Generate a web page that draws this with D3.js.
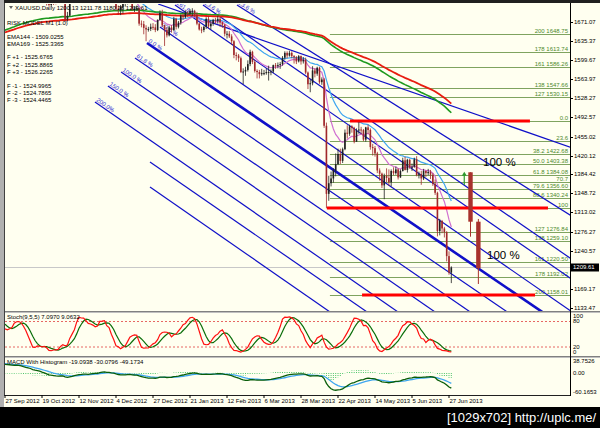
<!DOCTYPE html>
<html>
<head>
<meta charset="utf-8">
<script src="https://cdn.jsdelivr.net/npm/d3@7"></script>
<style>
body { margin: 0; background: #000; }
svg { display: block; }
text { font-family: "Liberation Sans", Arial, sans-serif; }
</style>
</head>
<body>
<svg id="chart" width="600" height="428"></svg>
<script>
// ---- data ----
const dateTicks = ["27 Sep 2012", "19 Oct 2012", "12 Nov 2012", "4 Dec 2012", "27 Dec 2012", "21 Jan 2013",
    "12 Feb 2013", "6 Mar 2013", "28 Mar 2013", "22 Apr 2013", "14 May 2013", "5 Jun 2013", "27 Jun 2013"];
const priceTicks = [1671.07, 1635.37, 1599.67, 1563.97, 1528.27, 1492.57, 1455.02, 1420.12, 1384.42,
    1348.72, 1313.02, 1276.27, 1240.57, 1169.17, 1133.47];
const lastPrice = 1209.61;

// bars before the first visible day, only used to warm the indicators up
const warmup = [
    [1616,1625,1612,1622],[1622,1644,1620,1640],[1640,1660,1635,1657],[1657,1673,1654,1670],[1670,1675,1661,1671],
    [1671,1675,1662,1665],[1665,1673,1658,1664],[1664,1668,1653,1657],[1657,1661,1648,1656],[1656,1693,1648,1691],
    [1691,1697,1688,1694],[1694,1698,1680,1693],[1693,1700,1687,1694],[1694,1706,1687,1702],[1702,1741,1700,1739],
    [1739,1741,1726,1731],[1731,1738,1726,1734],[1734,1738,1725,1731],[1731,1772,1724,1769],[1769,1778,1762,1770],
    [1770,1775,1750,1760],[1760,1773,1752,1771],[1771,1779,1763,1772],[1772,1772,1753,1769],[1769,1787,1766,1773],
    [1773,1777,1755,1763],[1763,1773,1755,1763],[1763,1766,1739,1752]
];

// XAUUSD daily, 27 Sep 2012 .. 28 Jun 2013  [open, high, low, close]
const ohlc = [
    [1752,1781,1750,1778],[1778,1786,1768,1772],[1772,1788,1770,1776],[1776,1786,1768,1776],[1776,1781,1764,1778],
    [1778,1797,1775,1794],[1794,1796,1772,1781],[1781,1785,1768,1775],[1775,1778,1760,1764],[1764,1768,1757,1764],
    [1764,1774,1760,1769],[1769,1772,1750,1757],[1757,1759,1731,1738],[1738,1751,1734,1747],[1747,1756,1741,1753],
    [1753,1756,1738,1744],[1744,1746,1718,1724],[1724,1730,1717,1725],[1725,1727,1702,1709],[1709,1717,1700,1703],
    [1703,1717,1700,1712],[1712,1718,1703,1711],[1711,1715,1704,1708],[1708,1714,1705,1709],[1709,1721,1705,1719],
    [1719,1721,1710,1715],[1715,1718,1672,1676],[1676,1690,1672,1683],[1683,1718,1682,1715],[1715,1722,1705,1716],
    [1716,1734,1714,1731],[1731,1737,1722,1731],[1731,1734,1721,1729],[1729,1731,1718,1724],[1724,1733,1722,1728],
    [1728,1730,1708,1714],[1714,1720,1705,1713],[1713,1737,1712,1733],[1733,1736,1719,1726],[1726,1733,1722,1729],
    [1729,1731,1724,1728],[1728,1754,1727,1751],[1751,1755,1741,1749],[1749,1752,1738,1743],[1743,1746,1705,1716],
    [1716,1732,1714,1730],[1730,1731,1708,1712],[1712,1722,1709,1718],[1718,1720,1692,1696],[1696,1702,1685,1694],
    [1694,1703,1684,1700],[1700,1708,1687,1705],[1705,1713,1700,1710],[1710,1719,1704,1716],[1716,1723,1707,1717],
    [1717,1719,1692,1695],[1695,1700,1690,1696],[1696,1702,1692,1697],[1697,1698,1664,1668],[1668,1674,1661,1667],
    [1667,1673,1648,1660],[1660,1665,1635,1657],[1657,1662,1653,1658],[1658,1668,1654,1662],[1662,1669,1656,1661],
    [1661,1667,1652,1656],[1656,1676,1654,1675],[1675,1693,1674,1688],[1688,1694,1662,1665],[1665,1666,1626,1656],
    [1656,1661,1642,1646],[1646,1664,1644,1661],[1661,1665,1651,1656],[1656,1681,1654,1677],[1677,1679,1657,1662],
    [1662,1673,1659,1670],[1670,1685,1666,1683],[1683,1687,1675,1680],[1680,1693,1678,1689],[1689,1691,1680,1687],
    [1687,1695,1685,1692],[1692,1697,1682,1692],[1692,1694,1680,1685],[1685,1690,1665,1668],[1668,1670,1655,1657],
    [1657,1662,1650,1656],[1656,1664,1652,1662],[1662,1680,1658,1677],[1677,1683,1659,1663],[1663,1675,1657,1668],
    [1668,1677,1664,1675],[1675,1679,1668,1673],[1673,1682,1668,1677],[1677,1681,1662,1670],[1670,1672,1660,1666],
    [1666,1667,1644,1649],[1649,1654,1640,1649],[1649,1654,1641,1644],[1644,1648,1628,1635],[1635,1637,1603,1609],
    [1609,1614,1599,1608],[1608,1611,1596,1603],[1603,1606,1575,1577],[1577,1584,1554,1578],[1578,1587,1570,1581],
    [1581,1599,1578,1592],[1592,1619,1588,1615],[1615,1617,1592,1596],[1596,1600,1576,1579],[1579,1582,1565,1577],
    [1577,1581,1565,1573],[1573,1583,1570,1575],[1575,1581,1571,1575],[1575,1584,1572,1577],[1577,1589,1561,1577],
    [1577,1582,1571,1578],[1578,1591,1575,1590],[1590,1594,1583,1589],[1589,1595,1584,1590],[1590,1596,1583,1592],
    [1592,1607,1589,1604],[1604,1616,1600,1613],[1613,1616,1603,1608],[1608,1617,1606,1613],[1613,1616,1603,1607],
    [1607,1609,1593,1605],[1605,1607,1592,1597],[1597,1609,1595,1607],[1607,1608,1591,1597],[1597,1605,1593,1600],
    [1600,1604,1573,1576],[1576,1578,1545,1554],[1554,1563,1539,1556],[1556,1588,1552,1580],[1580,1584,1567,1574],
    [1574,1587,1570,1585],[1585,1587,1555,1558],[1558,1567,1553,1563],[1563,1566,1472,1476],[1476,1482,1321,1348],
    [1348,1382,1335,1368],[1368,1390,1362,1377],[1377,1396,1369,1392],[1392,1424,1381,1404],[1404,1433,1402,1423],
    [1423,1433,1404,1410],[1410,1435,1406,1432],[1432,1469,1430,1463],[1463,1477,1452,1461],[1461,1478,1457,1475],
    [1475,1477,1463,1472],[1472,1474,1443,1446],[1446,1471,1446,1467],[1467,1487,1461,1469],[1469,1474,1460,1468],
    [1468,1470,1447,1450],[1450,1474,1446,1473],[1473,1478,1461,1468],[1468,1471,1431,1436],[1436,1442,1420,1434],
    [1434,1438,1418,1424],[1424,1427,1387,1392],[1392,1396,1373,1386],[1386,1388,1359,1364],[1364,1386,1338,1382],
    [1382,1396,1370,1378],[1378,1394,1363,1370],[1370,1394,1362,1391],[1391,1398,1383,1387],[1387,1399,1384,1394],
    [1394,1396,1375,1379],[1379,1394,1378,1391],[1391,1416,1390,1411],[1411,1418,1392,1393],[1393,1414,1388,1412],
    [1412,1414,1395,1398],[1398,1405,1391,1399],[1399,1416,1397,1413],[1413,1419,1381,1383],[1383,1390,1377,1385],
    [1385,1391,1365,1377],[1377,1395,1374,1391],[1391,1392,1380,1387],[1387,1395,1383,1389],[1389,1393,1376,1384],
    [1384,1387,1363,1367],[1367,1375,1346,1350],[1350,1352,1268,1278],[1278,1301,1270,1297],[1297,1299,1274,1283],
    [1283,1286,1266,1276],[1276,1278,1221,1231],[1231,1240,1196,1200],[1200.13,1211.78,1180.28,1209.61]
];

// Fibonacci retracement / expansion levels
const fibLevels = ["200", "178", "161", "138", "127", "0.0", "23.6", "38.2", "50.0", "61.8", "70.7", "79.6", "88.6", "100",
    "127", "138", "161", "178", "200"];
const fibValues = [1648.75, 1613.74, 1586.26, 1547.66, 1530.15, 1485.16, 1446.56, 1422.68, 1403.38, 1384.08, 1369.53,
    1356.60, 1340.24, 1321.60, 1276.84, 1259.10, 1220.50, 1192.02, 1158.01];
const fibShowPrice = [1, 1, 1, 1, 1, 0, 0, 1, 1, 1, 0, 1, 1, 0, 1, 1, 1, 1, 1];
const fibStart = 140.5;   // bar index where the fibo lines begin

// hand-drawn rays [bar1, price1, bar2, price2, width, label]
const trendLines = [
    [61.4, 1631.6, 227.9, 1139.1, 2.6, "0.0 %"],
    [56.2, 1603.4, 212.8, 1139.1, 1.2, "61.8 %"],
    [50.2, 1577.1, 196.8, 1139.1, 1.2, "100.0 %"],
    [44.5, 1550.8, 181.6, 1139.1, 1.2, "150.0 %"],
    [38.9, 1520.7, 165.6, 1139.1, 1.2, "200.0%"],
    [62.7, 1407.9, 152.2, 1139.1, 1.2, ""],
    [62.7, 1360.9, 136.2, 1139.1, 1.2, ""],
    [67.0, 1661.7, 240.9, 1139.1, 1.2, "23.6 %"],
    [73.5, 1703.0, 244.3, 1189.9, 1.2, "161.8 %"],
    [85.6, 1703.0, 244.3, 1227.5, 1.2, "23.6 %"],
    [100.3, 1703.0, 244.3, 1308.3, 1.2, "23.6 %"],
    [66.2, 1704.9, 244.3, 1436.1, 1.2, ""]
];

// red horizontal zones [bar1, bar2, price]
const redLines = [[149.2, 227.0, 1485.2], [139.2, 234.8, 1321.6], [154.4, 229.2, 1158.0]];

// projected candles to the right of the last bar
const projBar = [201.3, 204.7];
const projOpen = [1388.6, 1295.7];
const projHigh = [1388.6, 1300.8];
const projLow = [1267.5, 1178.6];
const projClose = [1295.7, 1208.0];
const arrowBar = 198.6, arrowFrom = 1364.7, arrowTo = 1389.5;

const legendLines = ["RISK MODEL M1 (1.0)", "EMA144 - 1509.0255", "EMA169 - 1525.3365", "",
    "F +1 - 1525.6765", "F +2 - 1525.8865", "F +3 - 1526.2265", "",
    "F -1 - 1524.9965", "F -2 - 1524.7865", "F -3 - 1524.4465"];

// ---- geometry ----
const W = 600, H = 428;
const plotL = 5, plotR = 570;
const mainTop = 4, mainBot = 311;
const stTop = 313, stBot = 356;
const mdTop = 358, mdBot = 395;

const x = d3.scaleLinear().domain([0, 192]).range([5, 449]);
const y = d3.scaleLinear().domain([1133.47, 1671.07]).range([308, 22]);
const ySt = d3.scaleLinear().domain([0, 100]).range([355.5, 313]);
const yMd = d3.scaleLinear().domain([-60.1653, 38.7526]).range([391.7, 361]);

// ---- indicators ----
function ema(values, period, seed) {
    const a = 2 / (period + 1);
    let e = seed === undefined ? values[0] : seed;
    return values.map((v, i) => (i === 0 && seed === undefined) ? e : (e = e + a * (v - e)));
}

const all = warmup.concat(ohlc);
const nW = warmup.length;
const closesAll = all.map(d => d[3]);
const closes = ohlc.map(d => d[3]);

const ema144 = ema(closes, 144, 1654);
const ema169 = ema(closes, 169, 1650);
const emaFast = ema(closesAll, 12).slice(nW);
const emaSlow = ema(closesAll, 26).slice(nW);

// Stochastic (9,5,5)
const kPer = 9, slowing = 5, dPer = 5;
const hh = [], ll = [];
all.forEach((d, i) => {
    const s = all.slice(Math.max(0, i - kPer + 1), i + 1);
    hh.push(d3.max(s, b => b[1]));
    ll.push(d3.min(s, b => b[2]));
});
const stK = all.map((d, i) => {
    if (i < kPer + slowing) return null;
    let num = 0, den = 0;
    for (let j = i - slowing + 1; j <= i; j++) { num += all[j][3] - ll[j]; den += hh[j] - ll[j]; }
    return den === 0 ? 100 : 100 * num / den;
});
const stD = stK.map((v, i) => {
    const s = stK.slice(i - dPer + 1, i + 1);
    return (i < dPer || s.some(q => q === null)) ? null : d3.mean(s);
});

// MACD (12,26,9) with histogram
const e12 = ema(closesAll, 12), e26 = ema(closesAll, 26);
const macdAll = e12.map((v, i) => v - e26[i]);
const sigAll = ema(macdAll, 9);
const macd = macdAll.slice(nW), signal = sigAll.slice(nW);
const hist = macd.map((v, i) => v - signal[i]);
const stKv = stK.slice(nW), stDv = stD.slice(nW);

// ---- drawing ----
const svg = d3.select('#chart');
svg.append('rect').attr('width', W).attr('height', H).attr('fill', '#fffff0');

const defs = svg.append('defs');
defs.append('clipPath').attr('id', 'clipMain').append('rect')
    .attr('x', plotL).attr('y', mainTop).attr('width', plotR - plotL).attr('height', mainBot - mainTop);
defs.append('clipPath').attr('id', 'clipSt').append('rect')
    .attr('x', plotL).attr('y', stTop).attr('width', plotR - plotL).attr('height', stBot - stTop);
defs.append('clipPath').attr('id', 'clipMd').append('rect')
    .attr('x', plotL).attr('y', mdTop).attr('width', plotR - plotL).attr('height', mdBot - mdTop);

const gMain = svg.append('g').attr('clip-path', 'url(#clipMain)');

// fibo levels
const fibColor = '#7fa35f';
fibValues.forEach((v, i) => {
    gMain.append('line')
        .attr('x1', x(fibStart)).attr('x2', plotR)
        .attr('y1', Math.round(y(v)) + 0.5).attr('y2', Math.round(y(v)) + 0.5)
        .attr('stroke', fibColor).attr('stroke-width', 1);
    gMain.append('text')
        .attr('x', plotR - 2).attr('y', Math.round(y(v)) - 1)
        .attr('text-anchor', 'end').attr('font-size', 6).attr('fill', '#4d8a2e')
        .text(fibShowPrice[i] ? fibLevels[i] + '  ' + v.toFixed(2) : fibLevels[i]);
});

// bid line
gMain.append('line').attr('x1', plotL).attr('x2', plotR)
    .attr('y1', Math.round(y(lastPrice)) + 0.5).attr('y2', Math.round(y(lastPrice)) + 0.5)
    .attr('stroke', '#c8c8c8').attr('stroke-width', 1);

// trend lines, drawn as rays past their second anchor
trendLines.forEach(t => {
    const x1 = x(t[0]), y1 = y(t[1]), x2 = x(t[2]), y2 = y(t[3]);
    gMain.append('line')
        .attr('x1', x1).attr('y1', y1).attr('x2', x1 + (x2 - x1) * 3).attr('y2', y1 + (y2 - y1) * 3)
        .attr('stroke', '#1010c8').attr('stroke-width', t[4]);
    if (t[5]) {
        const ang = Math.atan2(y2 - y1, x2 - x1) * 180 / Math.PI;
        gMain.append('text')
            .attr('transform', `translate(${x1 + 1},${y1 - 1}) rotate(${ang})`)
            .attr('font-size', 6).attr('fill', '#3030d0').text(t[5]);
    }
});

// moving averages
const lineGen = arr => d3.line().x((d, i) => x(i)).y(d => y(d))(arr);
gMain.append('path').attr('d', lineGen(emaSlow)).attr('fill', 'none').attr('stroke', '#3ea6f0').attr('stroke-width', 1.2);
gMain.append('path').attr('d', lineGen(emaFast)).attr('fill', 'none').attr('stroke', '#d070d0').attr('stroke-width', 1.2);
gMain.append('path').attr('d', lineGen(ema144)).attr('fill', 'none').attr('stroke', '#1e9a1e').attr('stroke-width', 1.6);
gMain.append('path').attr('d', lineGen(ema169)).attr('fill', 'none').attr('stroke', '#e81c10').attr('stroke-width', 1.8);

// candles
const upCol = '#202020', dnCol = '#a0282a';
const candles = gMain.selectAll('.candle').data(ohlc).enter().append('g').attr('class', 'candle');
candles.append('line')
    .attr('x1', (d, i) => x(i)).attr('x2', (d, i) => x(i))
    .attr('y1', d => y(d[1])).attr('y2', d => y(d[2]))
    .attr('stroke', d => d[3] >= d[0] ? upCol : dnCol).attr('stroke-width', 0.8);
candles.append('rect')
    .attr('x', (d, i) => x(i) - 0.8).attr('width', 1.6)
    .attr('y', d => y(Math.max(d[0], d[3])))
    .attr('height', d => Math.max(1, Math.abs(y(d[0]) - y(d[3]))))
    .attr('fill', d => d[3] >= d[0] ? upCol : dnCol);

// red zones
redLines.forEach(r => {
    gMain.append('line').attr('x1', x(r[0])).attr('x2', x(r[1])).attr('y1', y(r[2])).attr('y2', y(r[2]))
        .attr('stroke', '#ff0000').attr('stroke-width', 3);
});

// projected candles
projBar.forEach((b, i) => {
    gMain.append('line').attr('x1', x(b)).attr('x2', x(b)).attr('y1', y(projHigh[i])).attr('y2', y(projLow[i]))
        .attr('stroke', '#a8322c').attr('stroke-width', 1);
    gMain.append('rect').attr('x', x(b) - 2.2).attr('width', 4.4)
        .attr('y', y(projOpen[i])).attr('height', y(projClose[i]) - y(projOpen[i]))
        .attr('fill', '#a8322c');
});
gMain.append('line').attr('x1', x(arrowBar)).attr('x2', x(arrowBar))
    .attr('y1', y(arrowFrom)).attr('y2', y(arrowTo) + 3).attr('stroke', '#2e9a2e').attr('stroke-width', 1.2);
gMain.append('path')
    .attr('d', `M${x(arrowBar) - 2.5},${y(arrowTo) + 4} L${x(arrowBar)},${y(arrowTo)} L${x(arrowBar) + 2.5},${y(arrowTo) + 4} Z`)
    .attr('fill', '#2e9a2e');

// percent captions
gMain.append('text').attr('x', 483).attr('y', 166).attr('font-size', 11.5).attr('fill', '#000').text('100 %');
gMain.append('text').attr('x', 487).attr('y', 259).attr('font-size', 11.5).attr('fill', '#000').text('100 %');

// legend
svg.append('path').attr('d', 'M9,6 L13,6 L11,9 Z').attr('fill', '#606060');
svg.append('text').attr('x', 15).attr('y', 10).attr('font-size', 6).attr('fill', '#000')
    .text('XAUUSD,Daily  1200.13 1211.78 1180.28 1209.61');
legendLines.forEach((t, i) => {
    const yy = [25, 39, 46, 0, 59, 67, 74, 0, 88, 95, 102][i];
    if (t) svg.append('text').attr('x', 7).attr('y', yy).attr('font-size', 6).attr('fill', '#000').text(t);
});

// stochastic panel
const gSt = svg.append('g').attr('clip-path', 'url(#clipSt)');
[80, 20].forEach(v => gSt.append('line').attr('x1', plotL).attr('x2', plotR)
    .attr('y1', ySt(v)).attr('y2', ySt(v)).attr('stroke', '#e04040').attr('stroke-dasharray', '2,2').attr('stroke-width', 0.8));
const stLine = d3.line().defined(d => d !== null).x((d, i) => x(i)).y(d => ySt(d));
gSt.append('path').attr('d', stLine(stDv)).attr('fill', 'none').attr('stroke', '#0a6e0a').attr('stroke-width', 1.2);
gSt.append('path').attr('d', stLine(stKv)).attr('fill', 'none').attr('stroke', '#ff1010').attr('stroke-width', 1.2);
svg.append('text').attr('x', 7).attr('y', 319).attr('font-size', 6).attr('fill', '#000').text('Stoch(9,5,5) 7.0970 9.0632');

// macd panel
const gMd = svg.append('g').attr('clip-path', 'url(#clipMd)');
gMd.selectAll('.hb').data(hist).enter().append('line')
    .attr('x1', (d, i) => x(i)).attr('x2', (d, i) => x(i))
    .attr('y1', yMd(0)).attr('y2', d => yMd(d))
    .attr('stroke', '#4cc46a').attr('stroke-width', 1).attr('stroke-dasharray', '1,1');
const mdLine = d3.line().x((d, i) => x(i)).y(d => yMd(d));
gMd.append('path').attr('d', mdLine(signal)).attr('fill', 'none').attr('stroke', '#3ea6f0').attr('stroke-width', 1.3);
gMd.append('path').attr('d', mdLine(macd)).attr('fill', 'none').attr('stroke', '#0a5e0a').attr('stroke-width', 1.3);
svg.append('text').attr('x', 7).attr('y', 364).attr('font-size', 6).attr('fill', '#000')
    .text('MACD With Histogram -19.0938 -30.0796 -49.1734');

// frames
svg.append('rect').attr('x', 0).attr('y', 0).attr('width', W).attr('height', 3).attr('fill', '#202020');
svg.append('rect').attr('x', 0).attr('y', 0).attr('width', 4).attr('height', 407).attr('fill', '#b0b0b0');
svg.append('line').attr('x1', 4.5).attr('x2', 4.5).attr('y1', 3).attr('y2', 396).attr('stroke', '#404040');
[mainBot, stBot].forEach(v => {
    svg.append('rect').attr('x', plotL).attr('y', v).attr('width', W - plotL).attr('height', 2).attr('fill', '#c0c0c0');
    svg.append('line').attr('x1', plotL).attr('x2', W).attr('y1', v + 0.5).attr('y2', v + 0.5).attr('stroke', '#808080');
});
svg.append('line').attr('x1', plotL).attr('x2', plotR).attr('y1', mdBot + 0.5).attr('y2', mdBot + 0.5).attr('stroke', '#202020');
svg.append('line').attr('x1', plotR + 0.5).attr('x2', plotR + 0.5).attr('y1', 3).attr('y2', mdBot + 1).attr('stroke', '#000');

// price axis
priceTicks.forEach(p => {
    svg.append('line').attr('x1', plotR).attr('x2', plotR + 3).attr('y1', Math.round(y(p)) + 0.5).attr('y2', Math.round(y(p)) + 0.5).attr('stroke', '#000');
    svg.append('text').attr('x', plotR + 4).attr('y', y(p) + 2).attr('font-size', 6).attr('fill', '#000').text(p.toFixed(2));
});
svg.append('rect').attr('x', plotR + 1).attr('y', y(lastPrice) - 4).attr('width', 28).attr('height', 8).attr('fill', '#000');
svg.append('text').attr('x', plotR + 3).attr('y', y(lastPrice) + 2).attr('font-size', 6).attr('fill', '#fff').text(lastPrice.toFixed(2));

[[100, '100'], [80, '80'], [20, '20'], [0, '0']].forEach(d => {
    const yy = { 100: 318, 80: 322.5, 20: 348.5, 0: 353.5 }[d[0]];
    svg.append('text').attr('x', plotR + 3).attr('y', yy).attr('font-size', 6).attr('fill', '#000').text(d[1]);
});
[38.7526, 0, -60.1653].forEach(v => {
    svg.append('text').attr('x', plotR + 3).attr('y', yMd(v) + 2).attr('font-size', 6).attr('fill', '#000')
        .text(v === 0 ? '0.00' : v.toFixed(4));
});

// date axis
dateTicks.forEach((t, k) => {
    const xx = x(k * 16);
    svg.append('line').attr('x1', xx).attr('x2', xx).attr('y1', mdBot).attr('y2', mdBot + 3).attr('stroke', '#000');
    svg.append('text').attr('x', xx + 0.5).attr('y', 403).attr('font-size', 6).attr('fill', '#000').text(t);
});

// footer band
svg.append('rect').attr('x', 0).attr('y', 407).attr('width', W).attr('height', H - 407).attr('fill', '#000');
svg.append('text').attr('x', 447).attr('y', 422).attr('font-size', 12).attr('fill', '#fff')
    .attr('textLength', 149).attr('lengthAdjust', 'spacingAndGlyphs').text('[1029x702] http://uplc.me/');
</script>
</body>
</html>
